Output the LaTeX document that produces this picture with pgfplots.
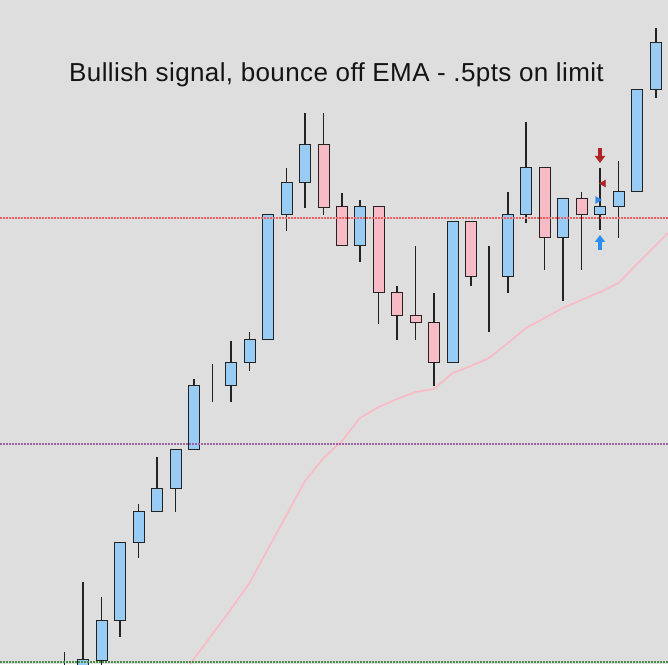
\documentclass[border=0pt]{standalone}
\usepackage{pgfplots}
\pgfplotsset{compat=1.18}
\usepackage{pgfplotstable}
\usepackage{fontspec}
\setmainfont{Liberation Sans}
\newfontfamily\titlefont[LetterSpace=1.5]{Liberation Sans}
\usetikzlibrary{arrows.meta}
\definecolor{bg}{RGB}{222,222,222}
\definecolor{bullc}{RGB}{153,204,245}
\definecolor{bearc}{RGB}{247,187,197}
\definecolor{edge}{RGB}{35,35,35}
\definecolor{ema}{RGB}{250,185,196}
\definecolor{redline}{RGB}{238,95,95}
\definecolor{purpleline}{RGB}{155,100,160}
\definecolor{greenline}{RGB}{70,140,70}
\definecolor{darkred}{RGB}{175,35,35}
\definecolor{sigblue}{RGB}{45,140,240}

% price scale: value = 764 - screen row
\pgfplotstableread{
x     base bull bear lo  rng
64.5  74   22   0    69  43
83    84   21   0    74  108
101.5 104  40   0    92  75
120   144  78   0    127 95
138.5 222  31   0    206 54
157   253  23   0    253 54
175.5 276  39   0    252 63
194   315  63   0    315 70
212.5 378  0    0    362 38
231   378  23   0    362 61
249.5 401  23   0    393 39
268   424  125  0    424 125
286.5 549  32   0    533 63
305   581  38   0    556 95
323.5 556  0    63   549 102
342   518  0    39   518 53
360   518  39   0    502 62
378.5 471  0    86   440 117
397   448  0    23   424 54
415.5 441  0    7    424 94
434   401  0    40   378 93
452.5 401  141  0    401 141
471   487  0    55   478 64
489   487  0    0    432 86
508   487  62   0    471 101
526   549  47   0    541 101
544.5 526  0    70   494 102
563   526  39   0    463 102
581.5 549  0    16   494 78
600   549  8    0    534 62
618.5 557  15   0    526 77
637   572  102  0    572 102
656   674  47   0    666 70
}\candles

\pgfplotstableread{
x     v
190   100
212.5 130
231   155
249.5 181
268   215
286.5 249
305   283
323.5 306
342   323
360   346
378.5 357
397   365
415.5 372
434   375
452.5 391
471   398
489   406
508   421
526   436
544.5 446
563   456
581.5 464
600   472
618.5 481
637   500
656   519
668   531
}\emadata

\pgfplotsset{chart/.style={width=668pt,height=664pt,scale only axis,
  xmin=0,xmax=668,ymin=100,ymax=764,hide axis,at={(0,0)},anchor=south west}}

\begin{document}
\begin{tikzpicture}
\fill[bg] (0,0) rectangle (668pt,664pt);
% wicks
\begin{axis}[chart]
\addplot[draw=none, no markers,
  error bars/.cd, y dir=plus, y explicit, error mark=none,
  error bar style={draw=edge, line width=1.1pt, solid}]
  table[x=x, y=lo, y error=rng] {\candles};
\end{axis}
% bodies
\begin{axis}[chart, ybar stacked, bar width=11pt]
\addplot[draw=none, fill=none] table[x=x, y=base] {\candles};
\addplot[draw=edge, line width=1pt, fill=bullc] table[x=x, y=bull] {\candles};
\addplot[draw=edge, line width=1pt, fill=bearc] table[x=x, y=bear] {\candles};
\end{axis}
% overlays
\begin{axis}[chart]
\addplot[ema, line width=1.6pt] table[x=x, y=v] {\emadata};
\addplot[redline, line width=1.2pt, dash pattern=on 2pt off 1pt] coordinates {(0,546) (668,546)};
\addplot[purpleline, line width=1.2pt, dash pattern=on 2pt off 1pt] coordinates {(0,320) (668,320)};
\addplot[greenline, line width=1.2pt, dash pattern=on 2pt off 1pt] coordinates {(0,102) (668,102)};
\addplot[darkred, line width=3.5pt, -{Triangle[width=10pt,length=7pt]},
  quiver={u=0,v=-15}] coordinates {(600,616)};
\addplot[sigblue, line width=3.5pt, -{Triangle[width=10pt,length=7pt]},
  quiver={u=0,v=15}] coordinates {(600,514)};
\addplot[darkred, only marks, mark=triangle*, mark size=4pt,
  mark options={rotate=90}] coordinates {(603.5,580.5)};
\addplot[sigblue, only marks, mark=triangle*, mark size=4pt,
  mark options={rotate=-90}] coordinates {(597.5,564)};
\node[anchor=base, font=\titlefont\fontsize{26}{31}\selectfont, text=black!92]
  at (axis cs:336.5,682) {Bullish signal, bounce off EMA - .5pts on limit};
\end{axis}
\end{tikzpicture}
\end{document}
